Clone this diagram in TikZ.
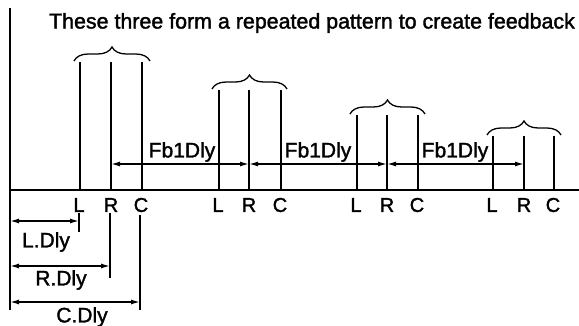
\documentclass[tikz,border=0pt]{standalone}
\usepackage{fontspec}
\setmainfont{Liberation Sans}
\newfontfamily\scanfont{Liberation Sans}[FakeBold=1.6]
\usetikzlibrary{decorations.pathreplacing,arrows.meta}
\begin{document}
\begin{tikzpicture}[x=1pt,y=-1pt,
  pulse/.style={line width=1.6pt},
  axisline/.style={line width=2.4pt},
  grpbrace/.style={decorate,decoration={brace,amplitude=14pt},line width=1.3pt},
  dimarrow/.style={line width=1.4pt,{Latex[length=9pt,width=5pt]}-{Latex[length=9pt,width=5pt]}},
  extline/.style={line width=1.3pt},
  lbl/.style={font=\scanfont\fontsize{20}{20}\selectfont,inner sep=0pt},
  txt/.style={font=\scanfont\fontsize{21}{21}\selectfont,inner sep=0pt},
  ttl/.style={font=\scanfont\fontsize{21.4}{21.4}\selectfont,inner sep=0pt}]
\useasboundingbox (0,0) rectangle (579,326);
% axes
\coordinate (axtop) at (10,8);
\coordinate (axbot) at (10,310);
\coordinate (origin) at (10,190);
\coordinate (xend) at (579,190);
\draw[axisline] (axtop) -- (axbot);
\draw[axisline] (origin) -- (xend);
% title
\node[ttl] (title) at (312,23) {These three form a repeated pattern to create feedback};
% pulses
\foreach \i/\l/\r/\c/\t/\ba/\bb in {1/80/111/142/62/74/150, 2/219/249/281/90/212/287, 3/357/387/418/115/350/425, 4/493/524/554/136/487/561}{
  \coordinate (L\i t) at (\l,\t); \coordinate (L\i b) at (\l,190);
  \coordinate (R\i t) at (\r,\t); \coordinate (R\i b) at (\r,190);
  \coordinate (C\i t) at (\c,\t); \coordinate (C\i b) at (\c,190);
  \coordinate (R\i a) at (\r,164);
  \draw[pulse] (L\i t) -- (L\i b);
  \draw[pulse] (R\i t) -- (R\i b);
  \draw[pulse] (C\i t) -- (C\i b);
  \coordinate (B\i l) at (\ba,\t-1);
  \coordinate (B\i r) at (\bb,\t-1);
  \draw[grpbrace] (B\i l) -- (B\i r);
  \node[lbl] (Ll\i) at (\l-1,205) {L};
  \node[lbl] (Rl\i) at (\r,205) {R};
  \node[lbl] (Cl\i) at (\c-1,205) {C};
}
% feedback delays
\draw[dimarrow] (R1a) -- (R2a);
\draw[dimarrow] (R2a) -- (R3a);
\draw[dimarrow] (R3a) -- (R4a);
\node[txt] (fb1) at (182,152) {Fb1Dly};
\node[txt] (fb2) at (318,152) {Fb1Dly};
\node[txt] (fb3) at (455,152) {Fb1Dly};
% L R C delays
\coordinate (eLt) at (79,213); \coordinate (eLb) at (79,232);
\coordinate (eRt) at (110,213); \coordinate (eRb) at (110,278);
\coordinate (eCt) at (140,215); \coordinate (eCb) at (140,310);
\draw[extline] (eLt) -- (eLb);
\draw[extline] (eRt) -- (eRb);
\draw[extline] (eCt) -- (eCb);
\coordinate (dL0) at (10,221); \coordinate (dL1) at (79,221);
\coordinate (dR0) at (10,266); \coordinate (dR1) at (110,266);
\coordinate (dC0) at (10,302); \coordinate (dC1) at (140,302);
\draw[dimarrow] (dL0) -- (dL1);
\draw[dimarrow] (dR0) -- (dR1);
\draw[dimarrow] (dC0) -- (dC1);
\node[txt] (ldly) at (46,242) {L.Dly};
\node[txt] (rdly) at (61,280) {R.Dly};
\node[txt] (cdly) at (82,317) {C.Dly};
\end{tikzpicture}
\end{document}
